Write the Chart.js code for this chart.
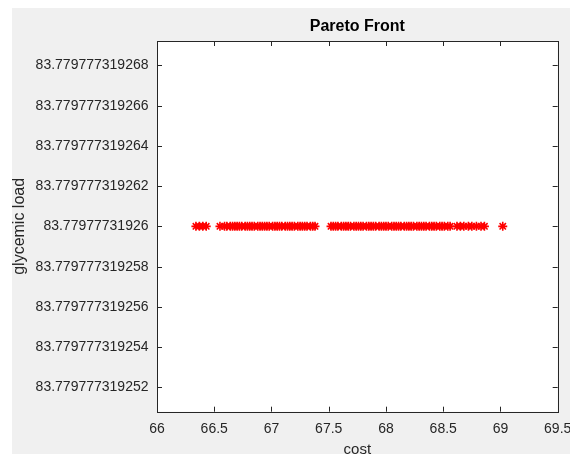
<!DOCTYPE html>
<html>
<head>
<meta charset="utf-8">
<title>Pareto Front</title>
<script src="https://cdn.jsdelivr.net/npm/chart.js@4"></script>
<style>
    html, body { margin: 0; padding: 0; background: #ffffff; }
    #wrap { position: relative; width: 570px; height: 454px; }
</style>
</head>
<body>
<div id="wrap"><canvas id="paretoChart" width="570" height="454"></canvas></div>
<script>
// cost of each solution on the front
const costValues = [
    66.34, 66.37, 66.40, 66.43,
    66.55, 66.59, 66.61, 66.64, 66.66, 66.68, 66.70, 66.72, 66.74, 66.77,
    66.79, 66.81, 66.83, 66.85, 66.88, 66.90, 66.92, 66.94, 66.96, 66.98,
    67.01, 67.03, 67.05, 67.07, 67.09, 67.12, 67.14, 67.16, 67.18, 67.20,
    67.23, 67.25, 67.27, 67.29, 67.31, 67.34, 67.36, 67.38,
    67.52, 67.54, 67.56, 67.58, 67.61, 67.63, 67.65, 67.67, 67.69, 67.72,
    67.74, 67.76, 67.78, 67.80, 67.83, 67.85, 67.87, 67.89, 67.91, 67.94,
    67.96, 67.98, 68.00, 68.02, 68.05, 68.07, 68.09, 68.11, 68.13, 68.16,
    68.18, 68.20, 68.22, 68.24, 68.27, 68.29, 68.31, 68.33, 68.35, 68.38,
    68.40, 68.42, 68.44, 68.47, 68.49, 68.51, 68.54, 68.56,
    68.62, 68.65, 68.68, 68.72, 68.75, 68.79, 68.83, 68.86,
    69.02
];
// every solution has the same glycemic load
const glycemicLoad = 83.77977731926;

const xTicks = [66, 66.5, 67, 67.5, 68, 68.5, 69, 69.5];
const yTickLabels = [
    '83.779777319252', '83.779777319254', '83.779777319256', '83.779777319258',
    '83.77977731926', '83.779777319262', '83.779777319264', '83.779777319266',
    '83.779777319268'
];

// the y values differ only in the 12th decimal, so plot them in units of 1e-12
// relative to a base value to keep the scale maths sane
const yBase = 83.7797773192;
function toPico(v) {
    return (v - yBase) * 1e12;
}

const points = costValues.map(c => ({ x: c, y: toPico(glycemicLoad) }));
const yTickValues = yTickLabels.map(s => toPico(parseFloat(s)));

const axisColor = '#262626';
const fontFamily = "'Liberation Sans', Arial, sans-serif";

// gray figure background, white axes, box with inward ticks like MATLAB
const matlabFrame = {
    id: 'matlabFrame',
    beforeDraw(chart) {
        const { ctx, chartArea: a } = chart;
        ctx.save();
        ctx.fillStyle = '#ffffff';
        ctx.fillRect(0, 0, chart.width, chart.height);
        ctx.fillStyle = '#f0f0f0';
        ctx.fillRect(12, 8, chart.width - 12, chart.height - 8);
        ctx.fillStyle = '#ffffff';
        ctx.fillRect(a.left, a.top, a.right - a.left, a.bottom - a.top);
        ctx.restore();
    },
    afterDraw(chart) {
        const { ctx, chartArea: a, scales } = chart;
        const len = 5;
        ctx.save();
        ctx.strokeStyle = axisColor;
        ctx.lineWidth = 1;
        ctx.beginPath();
        scales.x.ticks.forEach(t => {
            const px = Math.round(scales.x.getPixelForValue(t.value)) + 0.5;
            ctx.moveTo(px, a.bottom);
            ctx.lineTo(px, a.bottom - len);
            ctx.moveTo(px, a.top);
            ctx.lineTo(px, a.top + len);
        });
        scales.y.ticks.forEach(t => {
            const py = Math.round(scales.y.getPixelForValue(t.value)) + 0.5;
            ctx.moveTo(a.left, py);
            ctx.lineTo(a.left + len, py);
            ctx.moveTo(a.right, py);
            ctx.lineTo(a.right - len, py);
        });
        ctx.stroke();
        ctx.strokeRect(Math.round(a.left) + 0.5, Math.round(a.top) + 0.5,
            Math.round(a.right - a.left), Math.round(a.bottom - a.top));
        ctx.restore();
    }
};

new Chart(document.getElementById('paretoChart'), {
    type: 'scatter',
    data: {
        datasets: [{
            label: 'Pareto Front',
            data: points,
            pointStyle: 'star',
            pointRadius: 4.5,
            pointBorderWidth: 1.6,
            borderColor: '#ff0000',
            backgroundColor: '#ff0000'
        }]
    },
    options: {
        responsive: false,
        animation: false,
        layout: { padding: { left: 0, right: 12.3, top: 0, bottom: 0 } },
        plugins: {
            legend: { display: false },
            tooltip: { enabled: false },
            title: {
                display: true,
                text: 'Pareto Front',
                fullSize: false,
                color: '#000000',
                font: { family: fontFamily, size: 16, weight: 'bold', lineHeight: 1.2 },
                padding: { top: 17.2, bottom: 4.6 }
            }
        },
        scales: {
            x: {
                type: 'linear',
                min: 66,
                max: 69.5,
                grid: { display: false, drawTicks: false },
                border: { display: false },
                afterBuildTicks: scale => {
                    scale.ticks = xTicks.map(v => ({ value: v }));
                },
                afterFit: scale => {
                    scale.height = 42.3;
                    scale.paddingLeft = 0;
                    scale.paddingRight = 0;
                },
                ticks: {
                    padding: 9,
                    color: axisColor,
                    font: { family: fontFamily, size: 14 },
                    maxRotation: 0,
                    callback: value => String(value)
                },
                title: {
                    display: true,
                    text: 'cost',
                    color: axisColor,
                    font: { family: fontFamily, size: 15, lineHeight: 0.6 },
                    padding: { top: 0, bottom: 0 }
                }
            },
            y: {
                type: 'linear',
                min: toPico(glycemicLoad) - 9.21,
                max: toPico(glycemicLoad) + 9.21,
                grid: { display: false, drawTicks: false },
                border: { display: false },
                afterBuildTicks: scale => {
                    scale.ticks = yTickValues.map(v => ({ value: v }));
                },
                afterFit: scale => {
                    scale.width = 157;
                },
                ticks: {
                    padding: 8.5,
                    color: axisColor,
                    font: { family: fontFamily, size: 14 },
                    callback: (value, index) => yTickLabels[index]
                },
                title: {
                    display: true,
                    text: 'glycemic load',
                    color: axisColor,
                    font: { family: fontFamily, size: 16, lineHeight: 1.2 },
                    padding: { top: 10, bottom: 0 }
                }
            }
        }
    },
    plugins: [matlabFrame]
});
</script>
</body>
</html>
